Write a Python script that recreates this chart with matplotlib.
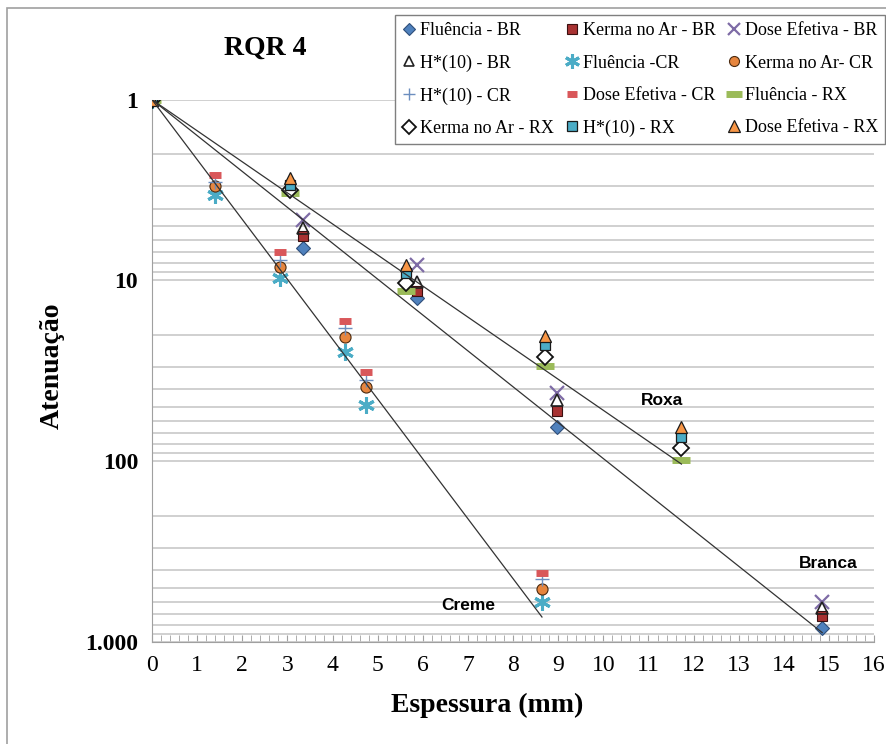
import numpy as np
import matplotlib.pyplot as plt
from matplotlib.patches import Rectangle
from matplotlib.ticker import FixedLocator, MultipleLocator, LogLocator, NullFormatter

plt.rcParams['font.family'] = ['Liberation Serif', 'DejaVu Serif']

# Branca (BR)
x_br = [0, 3.35, 5.87, 8.98, 14.85]
flu_br = [1, 6.6, 12.5, 65, 835]
ker_br = [1, 5.7, 11.5, 53, 718]
dose_br = [1, 4.6, 8.2, 42, 604]
h10_br = [1, 5.1, 10.2, 45.7, 647]

# Creme (CR)
x_cr = [0, 1.4, 2.84, 4.28, 4.74, 8.64]
flu_cr = [1, 3.36, 9.7, 25, 48.7, 604]
ker_cr = [1, 3.0, 8.4, 20.5, 39, 508]
h10_cr = [1, 2.85, 7.7, 18.3, 35.5, 447]
dose_cr = [1, 2.6, 7.0, 16.7, 32, 414]

# Roxa (RX)
x_rx = [0, 3.06, 5.63, 8.71, 11.73]
flu_rx = [1, 3.27, 11.5, 29.7, 98]
ker_rx = [1, 3.15, 10.3, 26.4, 84]
h10_rx = [1, 2.95, 9.1, 22.7, 73]
dose_rx = [1, 2.7, 8.2, 20.2, 64.5]

y_ticks = [1, 10, 100, 1000]
y_ticklabels = ['1', '10', '100', '1.000']
x_ticks = list(range(0, 17))

series = [
    ('Fluência - BR', x_br, flu_br, dict(marker='D', ms=7, mfc='#4F81BD', mec='#2F4F7A', mew=0.8)),
    ('Kerma no Ar - BR', x_br, ker_br, dict(marker='s', ms=7.5, mfc='#A83232', mec='#3A1010', mew=0.8)),
    ('Dose Efetiva - BR', x_br, dose_br, dict(marker='x', ms=10, mec='#7E6BA6', mew=1.6)),
    ('H*(10) - BR', x_br, h10_br, dict(marker='^', ms=8, mfc='none', mec='#222222', mew=1.2)),
    ('Fluência -CR', x_cr, flu_cr, dict(marker=(6, 2, 0), ms=12, mec='#4BACC6', mew=2.2)),
    ('Kerma no Ar- CR', x_cr, ker_cr, dict(marker='o', ms=8, mfc='#E6853E', mec='#4A2A10', mew=0.8)),
    ('H*(10) - CR', x_cr, h10_cr, dict(marker='+', ms=10, mec='#6C8EBF', mew=1.0)),
    ('Dose Efetiva - CR', x_cr, dose_cr, dict(marker='_', ms=8, mec='#D9575A', mew=5)),
    ('Fluência - RX', x_rx, flu_rx, dict(marker='_', ms=13, mec='#9BBB59', mew=5)),
    ('Kerma no Ar - RX', x_rx, ker_rx, dict(marker='D', ms=8, mfc='white', mec='#111111', mew=1.3)),
    ('H*(10) - RX', x_rx, h10_rx, dict(marker='s', ms=7.5, mfc='#4BACC6', mec='#1A1A1A', mew=0.9)),
    ('Dose Efetiva - RX', x_rx, dose_rx, dict(marker='^', ms=9, mfc='#F79646', mec='#1A1A1A', mew=0.9)),
]

fig = plt.figure(figsize=(8.86, 7.44), dpi=100)
ax = fig.add_axes([0.1716, 0.137, 0.815, 0.729])

handles = []
for label, xs, ys, st in series:
    h, = ax.plot(xs, ys, linestyle='none', label=label, zorder=3, **st)
    handles.append(h)

# exponential trend lines through (0, 1), fitted on the fluence series
for xs, ys in [(x_cr, flu_cr), (x_br, flu_br), (x_rx, flu_rx)]:
    xa = np.array(xs, dtype=float)
    la = np.log10(np.array(ys, dtype=float))
    b = np.sum(xa * la) / np.sum(xa ** 2)
    xx = np.linspace(0, xa.max(), 50)
    ax.plot(xx, 10 ** (b * xx), color='#333333', lw=0.9, zorder=4)

ax.set_yscale('log')
ax.set_ylim(1000, 1)
ax.set_xlim(0, 16)
ax.yaxis.set_major_locator(FixedLocator(y_ticks))
ax.set_yticklabels(y_ticklabels, fontsize=17, fontweight='bold')
ax.yaxis.set_minor_locator(LogLocator(base=10, subs=range(2, 10)))
ax.yaxis.set_minor_formatter(NullFormatter())
ax.tick_params(axis='y', which='both', length=0, pad=10)

ax.set_xticks(x_ticks)
ax.xaxis.set_minor_locator(MultipleLocator(0.2))
ax.tick_params(axis='x', which='both', direction='in', length=5, color='#A0A0A0',
               labelsize=17, pad=9)

ax.grid(axis='y', which='both', color='#C8C8C8', lw=1.2)
ax.set_axisbelow(True)
for s in ['top', 'right']:
    ax.spines[s].set_visible(False)
for s in ['left', 'bottom']:
    ax.spines[s].set_color('#A0A0A0')

lab_kw = dict(fontsize=12.5, fontweight='bold', family='Liberation Sans', ha='center', va='center')
ax.text(11.3, 46, 'Roxa', **lab_kw)
ax.text(14.98, 366, 'Branca', **lab_kw)
ax.text(7.0, 624, 'Creme', **lab_kw)

fig.text(0.299, 0.935, 'RQR 4', fontsize=20, fontweight='bold', ha='center', va='center')
fig.text(0.55, 0.052, 'Espessura (mm)', fontsize=20, fontweight='bold', ha='center', va='center')
fig.text(0.0587, 0.509, 'Atenuação', fontsize=20, fontweight='bold', ha='center', va='center',
         rotation=90)

# row-major ordering for the 3-column legend
order = [0, 3, 6, 9, 1, 4, 7, 10, 2, 5, 8, 11]
leg = ax.legend([handles[i] for i in order], [series[i][0] for i in order], ncol=3,
                loc='upper right', bbox_to_anchor=(0.999, 1 - 15 / 744),
                bbox_transform=fig.transFigure, borderaxespad=0, fontsize=13,
                frameon=True, fancybox=False, edgecolor='#7F7F7F', framealpha=1,
                handlelength=0.8, handletextpad=0.2, columnspacing=0.6,
                labelspacing=0.85, borderpad=0.4, markerscale=0.9)
leg.get_frame().set_linewidth(1.0)
leg.set_zorder(10)

fig.patches.append(Rectangle((0.008, -0.01), 1.0, 0.999, transform=fig.transFigure,
                             fill=False, edgecolor='#A0A0A0', lw=1.2))

fig.savefig('out.png', dpi=100)
